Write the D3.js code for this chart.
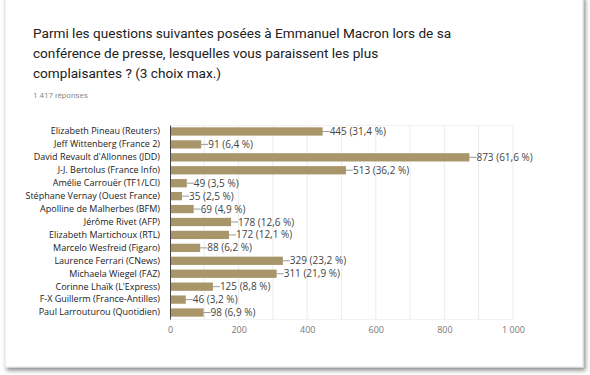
<!DOCTYPE html>
<html>
<head>
<meta charset="utf-8">
<script src="https://cdn.jsdelivr.net/npm/d3@7"></script>
<style>
  body { margin: 0; background: #fff; }
  svg { display: block; }
</style>
</head>
<body>
<div id="chart"></div>
<script>
var names = [
  "Elizabeth Pineau (Reuters)",
  "Jeff Wittenberg (France 2)",
  "David Revault d'Allonnes (JDD)",
  "J-J. Bertolus (France Info)",
  "Amélie Carrouër (TF1/LCI)",
  "Stéphane Vernay (Ouest France)",
  "Apolline de Malherbes (BFM)",
  "Jérôme Rivet (AFP)",
  "Elizabeth Martichoux (RTL)",
  "Marcelo Wesfreid (Figaro)",
  "Laurence Ferrari (CNews)",
  "Michaela Wiegel (FAZ)",
  "Corinne Lhaïk (L'Express)",
  "F-X Guillerm (France-Antilles)",
  "Paul Larrouturou (Quotidien)"
];
var votes = [445, 91, 873, 513, 49, 35, 69, 178, 172, 88, 329, 311, 125, 46, 98];
var percents = ["31,4", "6,4", "61,6", "36,2", "3,5", "2,5", "4,9", "12,6", "12,1", "6,2", "23,2", "21,9", "8,8", "3,2", "6,9"];
var xTicks = [0, 200, 400, 600, 800, 1000];
var xTickLabels = ["0", "200", "400", "600", "800", "1 000"];
var gridValues = [100, 200, 300, 400, 500, 600, 700, 800, 900, 1000];

var width = 590, height = 375;
var plotLeft = 170, plotRight = 513, plotTop = 125, plotBottom = 319;

var svg = d3.select("#chart").append("svg")
  .attr("width", width)
  .attr("height", height);

var defs = svg.append("defs");
var filter = defs.append("filter").attr("id", "shadow")
  .attr("x", "-5%").attr("y", "-5%").attr("width", "110%").attr("height", "112%");
filter.append("feDropShadow")
  .attr("dx", 2).attr("dy", 3).attr("stdDeviation", 2)
  .attr("flood-color", "#000").attr("flood-opacity", 0.45);

// card
svg.append("rect")
  .attr("x", 5).attr("y", -4)
  .attr("width", 578).attr("height", 371)
  .attr("fill", "#fff")
  .attr("stroke", "#e2e2e2")
  .attr("filter", "url(#shadow)");

// title
var title = ["Parmi les questions suivantes posées à Emmanuel Macron lors de sa",
  "conférence de presse, lesquelles vous paraissent les plus",
  "complaisantes ? (3 choix max.)"];
svg.append("g").selectAll("text")
  .data(title).enter()
  .append("text")
  .attr("x", 33)
  .attr("y", (d, i) => 38 + i * 20)
  .attr("font-family", "Roboto, sans-serif")
  .attr("font-size", "13.6px")
  .attr("fill", "#212121")
  .text(d => d);

svg.append("text")
  .attr("x", 33).attr("y", 98)
  .attr("font-family", "Roboto, sans-serif")
  .attr("font-size", "8px")
  .attr("fill", "#8a8a8a")
  .text("1 417 réponses");

var x = d3.scaleLinear().domain([0, 1000]).range([plotLeft, plotRight]);
var y = d3.scaleBand().domain(names).range([plotTop, plotBottom]).paddingInner(0.36).paddingOuter(0.18);

// gridlines
svg.append("g").selectAll("line")
  .data(gridValues).enter()
  .append("line")
  .attr("x1", d => x(d)).attr("x2", d => x(d))
  .attr("y1", plotTop).attr("y2", plotBottom)
  .attr("stroke", "#ececec").attr("stroke-width", 1);

svg.append("line")
  .attr("x1", plotLeft).attr("x2", plotRight)
  .attr("y1", plotTop + 0.5).attr("y2", plotTop + 0.5)
  .attr("stroke", "#f2f2f2");
svg.append("line")
  .attr("x1", plotLeft).attr("x2", plotRight)
  .attr("y1", plotBottom + 0.5).attr("y2", plotBottom + 0.5)
  .attr("stroke", "#f2f2f2");

// bars
svg.append("g").selectAll("rect")
  .data(votes).enter()
  .append("rect")
  .attr("x", plotLeft)
  .attr("y", (d, i) => y(names[i]))
  .attr("width", d => x(d) - plotLeft)
  .attr("height", y.bandwidth())
  .attr("fill", "#a8956a");

// value connectors and labels
var lbl = svg.append("g").selectAll("g")
  .data(votes).enter()
  .append("g");
lbl.append("line")
  .attr("x1", d => x(d))
  .attr("x2", d => x(d) + 7)
  .attr("y1", (d, i) => y(names[i]) + y.bandwidth() / 2)
  .attr("y2", (d, i) => y(names[i]) + y.bandwidth() / 2)
  .attr("stroke", "#999");
lbl.append("text")
  .attr("x", d => x(d) + 7)
  .attr("y", (d, i) => y(names[i]) + y.bandwidth() / 2)
  .attr("dy", "0.35em")
  .attr("font-family", "'Open Sans', sans-serif")
  .attr("font-size", "10px")
  .attr("fill", "#444")
  .text((d, i) => d + " (" + percents[i] + " %)");

// category labels
svg.append("g")
  .attr("transform", `translate(${plotLeft}, 0)`)
  .call(d3.axisLeft(y).tickSize(0).tickPadding(10))
  .call(g => g.select(".domain").attr("stroke", "#444"))
  .call(g => g.selectAll("text")
    .attr("font-family", "'Open Sans', sans-serif")
    .attr("font-size", "9px")
    .attr("fill", "#222"));

// x axis labels
svg.append("g")
  .attr("transform", `translate(0, ${plotBottom})`)
  .call(d3.axisBottom(x).tickValues(xTicks).tickSize(0).tickPadding(8)
    .tickFormat((d, i) => xTickLabels[i]))
  .call(g => g.select(".domain").remove())
  .call(g => g.selectAll("text")
    .attr("font-family", "'Open Sans', sans-serif")
    .attr("font-size", "9px")
    .attr("fill", "#777"));
</script>
</body>
</html>
